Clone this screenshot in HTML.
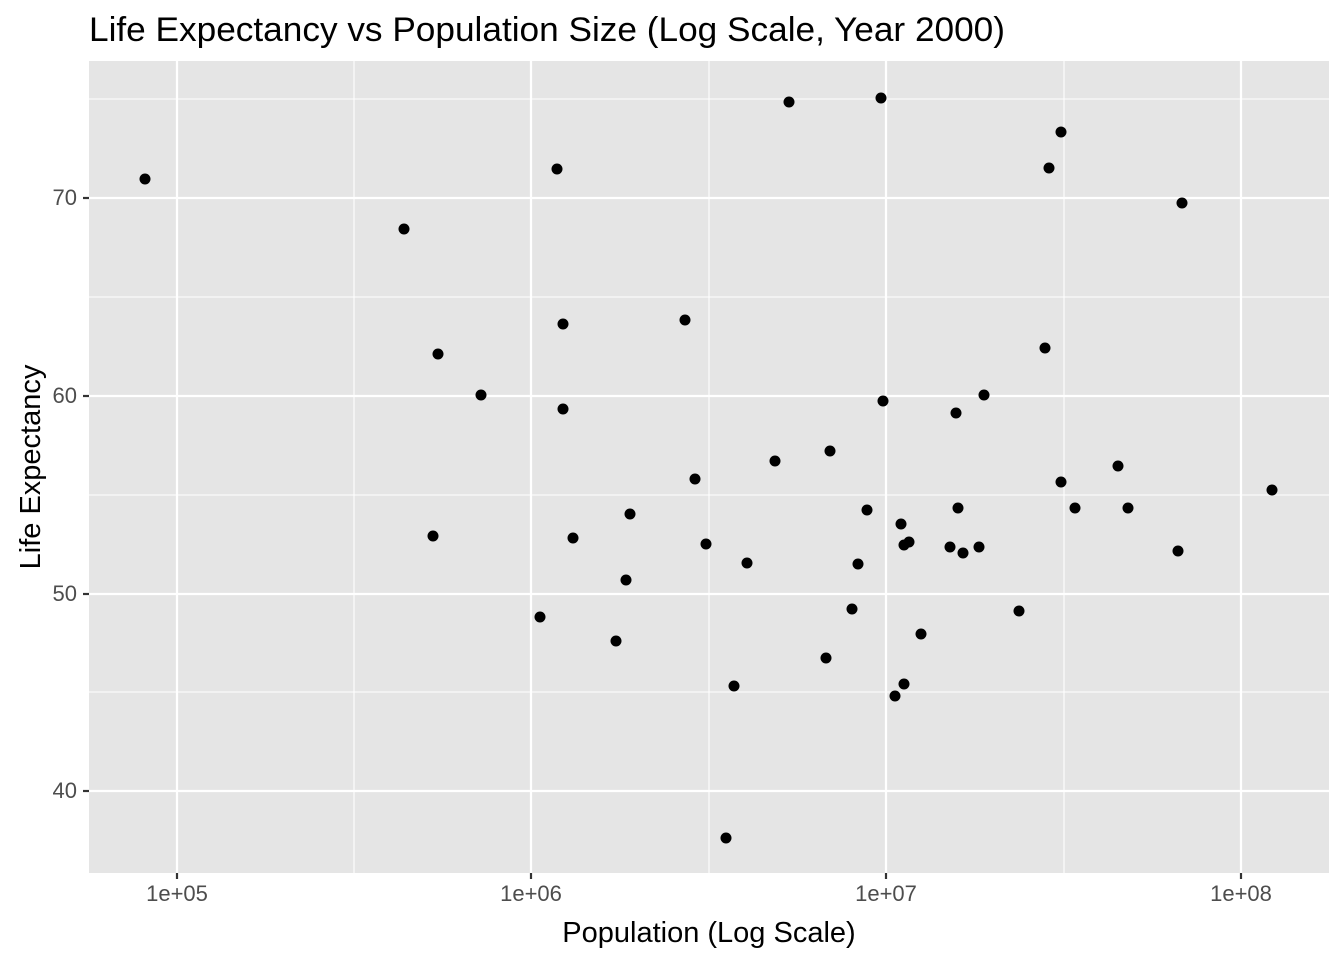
<!DOCTYPE html>
<html><head><meta charset="utf-8"><style>body{margin:0;background:#fff}</style></head><body>
<svg width="1344" height="960" xmlns="http://www.w3.org/2000/svg" font-family="Liberation Sans, sans-serif">
<rect width="1344" height="960" fill="#fff"/>
<text x="89" y="41" font-size="34" fill="#000" textLength="916" lengthAdjust="spacingAndGlyphs">Life Expectancy vs Population Size (Log Scale, Year 2000)</text>
<rect x="89" y="61" width="1240" height="812" fill="#e5e5e5"/>
<g stroke="#fff" stroke-width="1.1">
<line x1="354" x2="354" y1="61" y2="873"/><line x1="709" x2="709" y1="61" y2="873"/><line x1="1064" x2="1064" y1="61" y2="873"/>
<line x1="89" x2="1329" y1="99" y2="99"/><line x1="89" x2="1329" y1="297" y2="297"/><line x1="89" x2="1329" y1="495" y2="495"/><line x1="89" x2="1329" y1="692" y2="692"/>
</g>
<g stroke="#fff" stroke-width="2.2">
<line x1="177" x2="177" y1="61" y2="873"/><line x1="531" x2="531" y1="61" y2="873"/><line x1="886" x2="886" y1="61" y2="873"/><line x1="1241" x2="1241" y1="61" y2="873"/>
<line x1="89" x2="1329" y1="198" y2="198"/><line x1="89" x2="1329" y1="396" y2="396"/><line x1="89" x2="1329" y1="594" y2="594"/><line x1="89" x2="1329" y1="791" y2="791"/>
</g>
<g stroke="#333" stroke-width="2.2">
<line x1="177" x2="177" y1="873" y2="879"/><line x1="531" x2="531" y1="873" y2="879"/><line x1="886" x2="886" y1="873" y2="879"/><line x1="1241" x2="1241" y1="873" y2="879"/>
<line x1="83" x2="89" y1="198" y2="198"/><line x1="83" x2="89" y1="396" y2="396"/><line x1="83" x2="89" y1="594" y2="594"/><line x1="83" x2="89" y1="791" y2="791"/>
</g>
<g font-size="22" fill="#4d4d4d" text-anchor="middle">
<text x="177" y="901">1e+05</text><text x="531" y="901">1e+06</text><text x="886" y="901">1e+07</text><text x="1241" y="901">1e+08</text>
</g>
<g font-size="22" fill="#4d4d4d" text-anchor="end">
<text x="77" y="205">70</text><text x="77" y="403">60</text><text x="77" y="601">50</text><text x="77" y="798">40</text>
</g>
<text x="709" y="942" font-size="29" text-anchor="middle">Population (Log Scale)</text>
<text transform="translate(40,467) rotate(-90)" font-size="29" text-anchor="middle">Life Expectancy</text>
<g fill="#000">
<circle cx="145" cy="179" r="5.5"/><circle cx="404" cy="229" r="5.5"/><circle cx="438" cy="354" r="5.5"/><circle cx="481" cy="395" r="5.5"/><circle cx="433" cy="536" r="5.5"/><circle cx="557" cy="169" r="5.5"/><circle cx="563" cy="324" r="5.5"/><circle cx="563" cy="409" r="5.5"/><circle cx="573" cy="538" r="5.5"/><circle cx="540" cy="617" r="5.5"/><circle cx="616" cy="641" r="5.5"/><circle cx="626" cy="580" r="5.5"/><circle cx="630" cy="514" r="5.5"/><circle cx="685" cy="320" r="5.5"/><circle cx="695" cy="479" r="5.5"/><circle cx="706" cy="544" r="5.5"/><circle cx="726" cy="838" r="5.5"/><circle cx="734" cy="686" r="5.5"/><circle cx="747" cy="563" r="5.5"/><circle cx="775" cy="461" r="5.5"/><circle cx="789" cy="102" r="5.5"/><circle cx="826" cy="658" r="5.5"/><circle cx="830" cy="451" r="5.5"/><circle cx="852" cy="609" r="5.5"/><circle cx="858" cy="564" r="5.5"/><circle cx="867" cy="510" r="5.5"/><circle cx="881" cy="98" r="5.5"/><circle cx="883" cy="401" r="5.5"/><circle cx="895" cy="696" r="5.5"/><circle cx="901" cy="524" r="5.5"/><circle cx="904" cy="545" r="5.5"/><circle cx="904" cy="684" r="5.5"/><circle cx="909" cy="542" r="5.5"/><circle cx="921" cy="634" r="5.5"/><circle cx="950" cy="547" r="5.5"/><circle cx="956" cy="413" r="5.5"/><circle cx="958" cy="508" r="5.5"/><circle cx="963" cy="553" r="5.5"/><circle cx="979" cy="547" r="5.5"/><circle cx="984" cy="395" r="5.5"/><circle cx="1019" cy="611" r="5.5"/><circle cx="1045" cy="348" r="5.5"/><circle cx="1049" cy="168" r="5.5"/><circle cx="1061" cy="132" r="5.5"/><circle cx="1061" cy="482" r="5.5"/><circle cx="1075" cy="508" r="5.5"/><circle cx="1118" cy="466" r="5.5"/><circle cx="1128" cy="508" r="5.5"/><circle cx="1178" cy="551" r="5.5"/><circle cx="1182" cy="203" r="5.5"/><circle cx="1272" cy="490" r="5.5"/>
</g>
</svg>
</body></html>
